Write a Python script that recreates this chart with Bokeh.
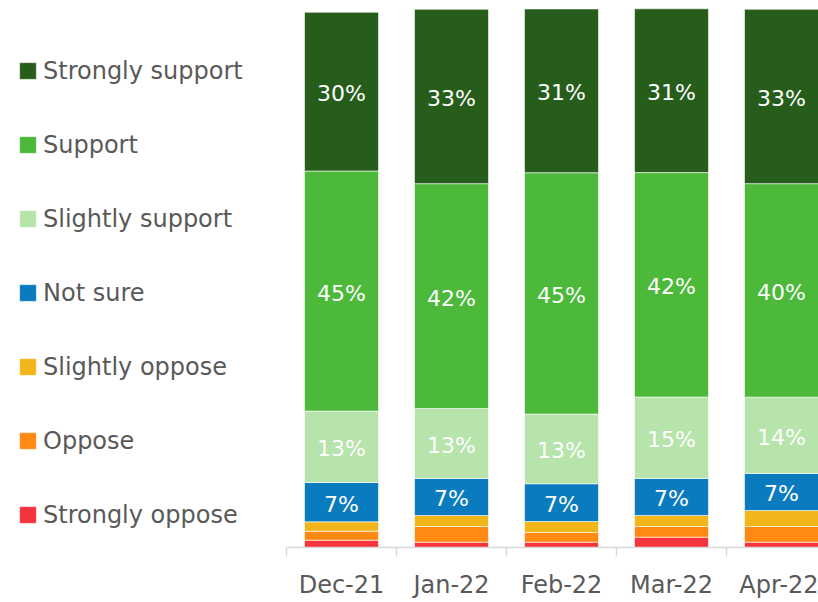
from bokeh.plotting import figure
from bokeh.models import Range1d, FixedTicker, Legend, LegendItem, ColumnDataSource
from bokeh.core.properties import value
from bokeh.embed import file_html
from bokeh.resources import INLINE

months = ["Dec-21", "Jan-22", "Feb-22", "Mar-22", "Apr-22"]
strongly_support = [29.66, 32.58, 30.6, 30.6, 32.58]
support = [44.86, 42.0, 45.1, 41.94, 39.89]
slightly_support = [13.33, 13.08, 13.01, 15.2, 14.26]
not_sure = [7.35, 6.92, 7.05, 6.92, 6.92]
slightly_oppose = [1.76, 2.06, 2.06, 2.06, 2.99]
oppose = [1.68, 2.93, 1.81, 2.0, 2.93]
strongly_oppose = [1.36, 0.99, 0.99, 1.93, 0.99]

series_names = ["Strongly oppose", "Oppose", "Slightly oppose", "Not sure",
                "Slightly support", "Support", "Strongly support"]
series_values = [strongly_oppose, oppose, slightly_oppose, not_sure,
                 slightly_support, support, strongly_support]
colors = ["#F5343D", "#FF8913", "#F2B51A", "#0A7BBE",
          "#B6E4AA", "#4DB93A", "#275D1B"]
labelled = {"Not sure", "Slightly support", "Support", "Strongly support"}

FONT = "DejaVu Sans"
TXT = "#595959"

xs = list(range(len(months)))
data = {"x": xs}
for n, v in zip(series_names, series_values):
    data[n] = v
source = ColumnDataSource(data)

plot_left = 286
W, H = 818, 602
px_per_cat = 110
x_start = -0.5 - plot_left / px_per_cat
x_end = -0.5 + (W - plot_left) / px_per_cat

p = figure(width=W, height=H, output_backend="svg", toolbar_location=None,
           x_range=Range1d(x_start, x_end), y_range=Range1d(0, 102.2),
           y_axis_location=None, min_border_left=0, min_border_right=0,
           min_border_top=0, min_border_bottom=55)
p.outline_line_color = None
p.xgrid.visible = False
p.ygrid.visible = False
p.background_fill_color = "white"
p.border_fill_color = "white"

rends = p.vbar_stack(series_names, x="x", width=74 / px_per_cat, source=source,
                     color=colors, line_color="white", line_width=0.6)

# data labels
lx, ly, lt = [], [], []
cum = [0.0] * len(months)
for n, v in zip(series_names, series_values):
    for i, val in enumerate(v):
        if n in labelled:
            lx.append(xs[i])
            ly.append(cum[i] + val / 2)
            lt.append(f"{val:.0f}%")
        cum[i] += val
p.text(x=lx, y=ly, text=lt, text_color="white", text_align="center",
       text_baseline="middle", text_font=value(FONT), text_font_size="22px",
       y_offset=2)

ax = p.xaxis[0]
ax.bounds = (-0.5, x_end)
ax.ticker = FixedTicker(ticks=xs, minor_ticks=[i - 0.5 for i in range(len(months) + 1)])
ax.major_label_overrides = {i: m for i, m in enumerate(months)}
ax.major_tick_out = 0
ax.major_tick_in = 0
ax.minor_tick_out = 9
ax.minor_tick_in = 0
ax.minor_tick_line_color = "#D9D9D9"
ax.minor_tick_line_width = 1.5
ax.axis_line_color = "#D9D9D9"
ax.axis_line_width = 1.5
ax.major_label_standoff = 14
ax.major_label_text_font = FONT
ax.major_label_text_font_size = "24px"
ax.major_label_text_color = TXT

items = [LegendItem(label=n, renderers=[r]) for n, r in zip(series_names, rends)][::-1]
legend = Legend(items=items, location=(17, 17.5), orientation="vertical",
                glyph_width=21, glyph_height=21, label_height=30, label_standoff=5,
                spacing=44, padding=0, margin=0, border_line_color=None,
                background_fill_alpha=0, label_text_font=FONT,
                label_text_font_size="24px", label_text_color=TXT)
p.add_layout(legend)

open("out.html", "w").write(file_html(p, INLINE))
